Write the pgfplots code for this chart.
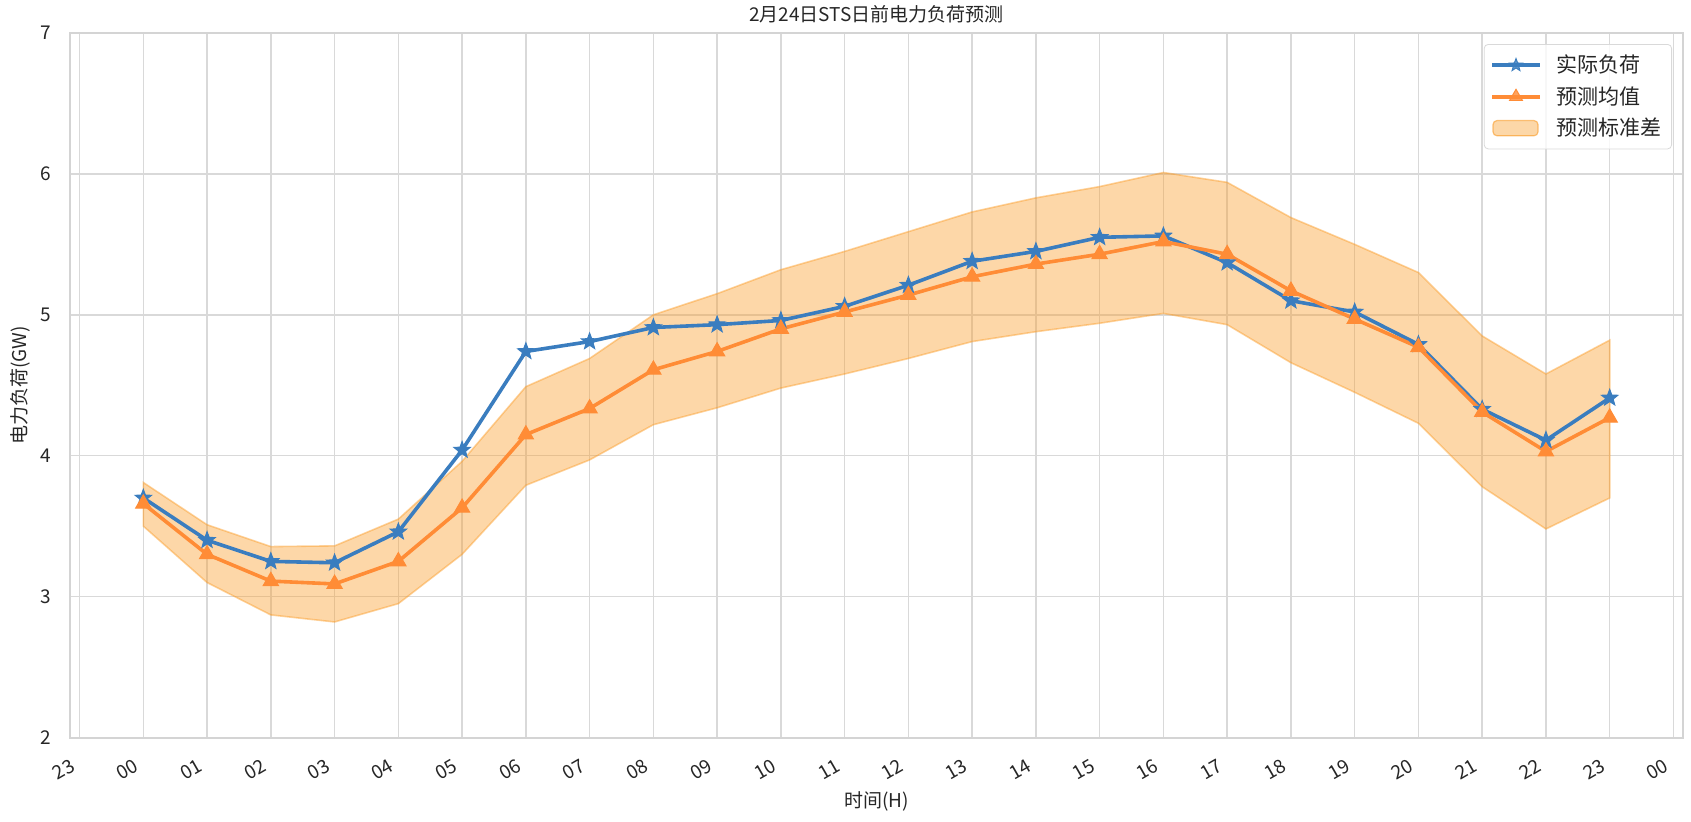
\documentclass[border=0pt]{standalone}
\usepackage{fontspec}
\setmainfont{Noto Sans CJK SC}
\usepackage{pgfplots}
\usepackage{pgfplotstable}
\pgfplotsset{compat=1.18}
\usetikzlibrary{plotmarks}

\definecolor{cblue}{HTML}{3A7DBF}
\definecolor{corange}{HTML}{FF8C36}
\definecolor{cband}{HTML}{FA9B26}
\definecolor{cgrid}{HTML}{D9D9D9}
\definecolor{caxis}{HTML}{D4D4D4}
\definecolor{ctext}{HTML}{262626}

\pgfdeclareplotmark{fstar}{%
  \pgfpathmoveto{\pgfpointpolar{90}{\pgfplotmarksize}}%
  \pgfpathlineto{\pgfpointpolar{126}{0.42\pgfplotmarksize}}%
  \pgfpathlineto{\pgfpointpolar{162}{\pgfplotmarksize}}%
  \pgfpathlineto{\pgfpointpolar{198}{0.42\pgfplotmarksize}}%
  \pgfpathlineto{\pgfpointpolar{234}{\pgfplotmarksize}}%
  \pgfpathlineto{\pgfpointpolar{270}{0.42\pgfplotmarksize}}%
  \pgfpathlineto{\pgfpointpolar{306}{\pgfplotmarksize}}%
  \pgfpathlineto{\pgfpointpolar{342}{0.42\pgfplotmarksize}}%
  \pgfpathlineto{\pgfpointpolar{18}{\pgfplotmarksize}}%
  \pgfpathlineto{\pgfpointpolar{54}{0.42\pgfplotmarksize}}%
  \pgfpathclose
  \pgfusepathqfillstroke}

\pgfplotstableread{
x actual mean
0  3.70 3.66
1  3.40 3.30
2  3.25 3.11
3  3.24 3.09
4  3.46 3.25
5  4.04 3.63
6  4.74 4.15
7  4.81 4.335
8  4.91 4.61
9  4.93 4.74
10 4.96 4.90
11 5.06 5.02
12 5.21 5.14
13 5.38 5.27
14 5.45 5.36
15 5.55 5.43
16 5.56 5.52
17 5.37 5.43
18 5.10 5.17
19 5.02 4.97
20 4.79 4.77
21 4.33 4.31
22 4.11 4.03
23 4.41 4.27
}\loadtable

% band outline: upper bound 0..23, then lower bound 23..0
\pgfplotstableread{
x y
0  3.81
1  3.51
2  3.355
3  3.36
4  3.55
5  3.96
6  4.49
7  4.69
8  5.00
9  5.15
10 5.32
11 5.45
12 5.59
13 5.73
14 5.83
15 5.91
16 6.01
17 5.94
18 5.69
19 5.50
20 5.30
21 4.85
22 4.58
23 4.82
23 3.70
22 3.48
21 3.78
20 4.23
19 4.45
18 4.66
17 4.93
16 5.01
15 4.94
14 4.88
13 4.81
12 4.69
11 4.58
10 4.48
9  4.34
8  4.22
7  3.97
6  3.79
5  3.30
4  2.95
3  2.82
2  2.87
1  3.10
0  3.50
}\bandtable

\begin{document}
\begin{tikzpicture}
\path[use as bounding box] (-35pt,-41.75pt) rectangle (810.5pt,368.75pt);
\begin{axis}[
  at={(0,0)}, anchor=south west,
  scale only axis, width=806.5pt, height=352.25pt,
  xmin=-1.15, xmax=24.15, ymin=2, ymax=7,
  xtick={-1,0,1,2,3,4,5,6,7,8,9,10,11,12,13,14,15,16,17,18,19,20,21,22,23,24},
  xticklabels={23,00,01,02,03,04,05,06,07,08,09,10,11,12,13,14,15,16,17,18,19,20,21,22,23,00},
  ytick={2,3,4,5,6,7},
  grid=major,
  major grid style={draw=cgrid, line width=0.7pt},
  axis line style={draw=caxis, line width=1pt},
  major tick length=0pt,
  /pgf/number format/assume math mode=true,
  tick label style={font=\fontsize{9.5}{10}\selectfont, text=ctext},
  yticklabel style={anchor=east, inner sep=0pt, xshift=-9.5pt},
  xticklabel style={anchor=east, inner sep=0pt, xshift=-3.2pt, yshift=-13.2pt, rotate=30},
  title={2月24日STS日前电力负荷预测},
  title style={font=\fontsize{9.5}{11}\selectfont, text=ctext, at={(axis description cs:0.5,1)}, anchor=center, yshift=3.5pt},
  xlabel={时间(H)},
  xlabel style={font=\fontsize{9.5}{11}\selectfont, text=ctext, at={(axis description cs:0.5,0)}, anchor=center, yshift=-32pt},
  ylabel={电力负荷(GW)},
  ylabel style={font=\fontsize{9.5}{11}\selectfont, text=ctext, at={(axis description cs:-0.031,0.5)}, anchor=center},
  legend style={at={(1,1)}, anchor=north east, xshift=-5.5pt, yshift=-5.5pt,
    draw=cgrid, rounded corners=2pt, fill=white, fill opacity=0.8, text opacity=1,
    font=\fontsize{10.5}{12}\selectfont, text=ctext, inner sep=3pt, row sep=1pt,
    nodes={inner sep=2.2pt},
    /tikz/every odd column/.append style={column sep=5pt}},
  legend cell align=left,
]
\addplot[fill=cband, fill opacity=0.4, draw=cband, draw opacity=0.45, line width=0.8pt, forget plot] table[x=x,y=y]{\bandtable} -- cycle;

\addplot[color=cblue, line width=1.8pt, mark=fstar, mark size=4.3pt, mark options={line width=0.5pt}, forget plot] table[x=x,y=actual]{\loadtable};
\addplot[color=corange, line width=1.8pt, mark=triangle*, mark size=4.4pt, mark options={line width=0.5pt}, forget plot] table[x=x,y=mean]{\loadtable};

\addlegendimage{color=cblue, line width=1.8pt, mark=fstar, mark size=3.3pt, mark options={line width=0.5pt},
  legend image code/.code={\draw[mark repeat=2,mark phase=2] plot coordinates {(2pt,0pt)(14pt,0pt)(26pt,0pt)};}}
\addlegendentry{实际负荷}
\addlegendimage{color=corange, line width=1.8pt, mark=triangle*, mark size=3.7pt, mark options={line width=0.5pt},
  legend image code/.code={\draw[mark repeat=2,mark phase=2] plot coordinates {(2pt,0pt)(14pt,0pt)(26pt,0pt)};}}
\addlegendentry{预测均值}
\addlegendimage{legend image code/.code={\draw[fill=cband, fill opacity=0.4, draw=cband, draw opacity=0.6, line width=0.6pt] (2.5pt,-3.8pt) rectangle (25pt,3.8pt);}}
\addlegendentry{预测标准差}
\end{axis}
\end{tikzpicture}
\end{document}
